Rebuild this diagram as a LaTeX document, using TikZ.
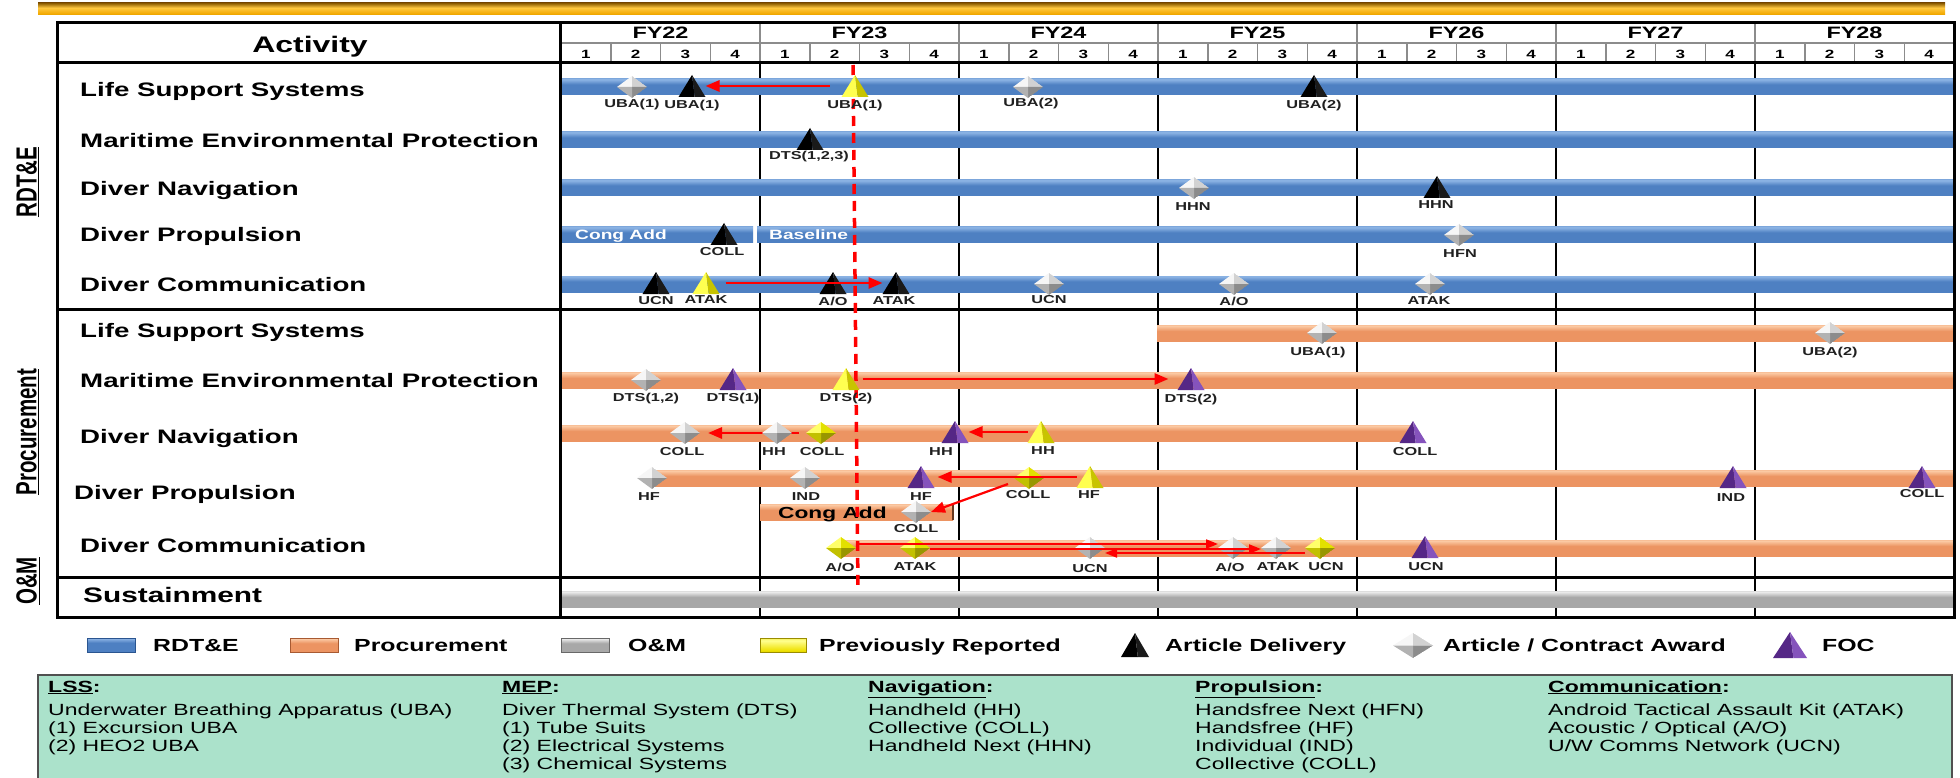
\documentclass[tikz,border=0pt]{standalone}
\usepackage{fontspec}
\setmainfont{Liberation Sans}
\newfontfamily\sfx[FakeStretch=1.42]{Liberation Sans}
\usetikzlibrary{arrows.meta,calc,shapes.geometric}
\definecolor{bbl}{HTML}{8FB6E6}
\definecolor{bbm}{HTML}{4E80C2}
\definecolor{bbd}{HTML}{2A5590}
\definecolor{obl}{HTML}{FBC9A3}
\definecolor{obm}{HTML}{EC9462}
\definecolor{obd}{HTML}{A85A32}
\definecolor{sbl}{HTML}{EAEAEA}
\definecolor{sbm}{HTML}{A8A8A8}
\definecolor{sbd}{HTML}{686868}
\definecolor{ybl}{HTML}{FFFF90}
\definecolor{ybm}{HTML}{EEE000}
\definecolor{ybd}{HTML}{9A8C00}
\definecolor{gdd}{HTML}{8A5A00}
\definecolor{gdm}{HTML}{F2A900}
\definecolor{gdl}{HTML}{FFC840}
\definecolor{tblk}{HTML}{1A1A1A}
\definecolor{tyl1}{HTML}{FFFF50}
\definecolor{tyl2}{HTML}{C8C400}
\definecolor{tpu1}{HTML}{552786}
\definecolor{tpu2}{HTML}{8553BC}
\definecolor{dg1}{HTML}{F6F6F6}
\definecolor{dg2}{HTML}{D2D2D2}
\definecolor{dg3}{HTML}{8C8C8C}
\definecolor{dg4}{HTML}{B2B2B2}
\definecolor{dy1}{HTML}{FFFF6A}
\definecolor{dy2}{HTML}{E2E000}
\definecolor{dy3}{HTML}{989600}
\definecolor{dy4}{HTML}{C2C000}
\definecolor{labc}{HTML}{202020}
\definecolor{hdrg}{HTML}{8C8C8C}
\definecolor{boxg}{HTML}{ABE2CB}
\definecolor{boxb}{HTML}{505050}
\pgfdeclareverticalshading{bluebar}{100bp}{color(0bp)=(bbd); color(22bp)=(bbm); color(58bp)=(bbm); color(74bp)=(bbl); color(88bp)=(bbm); color(100bp)=(bbd)}
\pgfdeclareverticalshading{orgbar}{100bp}{color(0bp)=(obd); color(22bp)=(obm); color(56bp)=(obm); color(72bp)=(obl); color(88bp)=(obm); color(100bp)=(obd)}
\pgfdeclareverticalshading{silbar}{100bp}{color(0bp)=(sbd); color(22bp)=(sbm); color(56bp)=(sbm); color(72bp)=(sbl); color(88bp)=(sbm); color(100bp)=(sbd)}
\pgfdeclareverticalshading{ylwbar}{100bp}{color(0bp)=(ybd); color(30bp)=(ybm); color(66bp)=(ybl); color(86bp)=(ybm); color(100bp)=(ybd)}
\pgfdeclareverticalshading{goldbar}{100bp}{color(0bp)=(gdd); color(30bp)=(gdm); color(55bp)=(gdl); color(75bp)=(gdd); color(90bp)=(gdm); color(100bp)=(gdd)}
\newcommand\fhdr{\sfx\bfseries\fontsize{22.5}{26}\selectfont}
\newcommand\frow{\sfx\bfseries\fontsize{19.5}{22}\selectfont}
\newcommand\fsus{\sfx\bfseries\fontsize{21}{24}\selectfont}
\newcommand\ffy{\sfx\bfseries\fontsize{16.5}{19}\selectfont}
\newcommand\fq{\sfx\bfseries\fontsize{12}{14}\selectfont}
\newcommand\flab{\sfx\bfseries\fontsize{11.5}{13}\selectfont}
\newcommand\fleg{\sfx\bfseries\fontsize{17.5}{20}\selectfont}
\newcommand\fbx{\sfx\fontsize{16.2}{18}\selectfont}
\newcommand\fcong{\sfx\bfseries\fontsize{13.5}{16}\selectfont}
\newcommand\fcongb{\sfx\bfseries\fontsize{16}{18}\selectfont}
\newcommand\fside{\bfseries\fontsize{20.5}{24}\selectfont}
\newcommand\mybar[4]{\shade[shading=#4] (#1,{#3-8}) rectangle (#2,{#3+8});}
\tikzset{
  mk/.style={inner sep=0pt, outer sep=0pt, draw=none},
  mtri/.style n args={2}{mk, rectangle, minimum width=27pt, minimum height=22pt,
    path picture={
      \fill[#1] (path picture bounding box.south west) -- (path picture bounding box.north) -- ($(path picture bounding box.south west)!0.6!(path picture bounding box.south east)$) -- cycle;
      \fill[#2] ($(path picture bounding box.south west)!0.6!(path picture bounding box.south east)$) -- (path picture bounding box.north) -- (path picture bounding box.south east) -- cycle;
    }},
  blk/.style={mtri={black}{tblk}},
  ytri/.style={mtri={tyl1}{tyl2}},
  ptri/.style={mtri={tpu1}{tpu2}},
  mdia/.style n args={4}{mk, diamond, minimum width=30pt, minimum height=22pt,
    path picture={
      \fill[#1] (path picture bounding box.west) -- (path picture bounding box.north) -- (path picture bounding box.center) -- cycle;
      \fill[#2] (path picture bounding box.north) -- (path picture bounding box.east) -- (path picture bounding box.center) -- cycle;
      \fill[#3] (path picture bounding box.east) -- (path picture bounding box.south) -- (path picture bounding box.center) -- cycle;
      \fill[#4] (path picture bounding box.south) -- (path picture bounding box.west) -- (path picture bounding box.center) -- cycle;
    }},
  gdia/.style={mdia={dg1}{dg2}{dg3}{dg4}},
  ydia/.style={mdia={dy1}{dy2}{dy3}{dy4}},
  mlab/.style={inner sep=0pt, font=\flab, text=labc},
  rowl/.style={anchor=base west, inner sep=0pt, font=\frow},
  legt/.style={anchor=base west, inner sep=0pt, font=\fleg},
  bxh/.style={anchor=base west, inner sep=0pt, font=\fbx\bfseries},
  bxt/.style={anchor=base west, inner sep=0pt, font=\fbx},
  rarr/.style={draw=red, line width=2.8pt, -{Triangle[length=14pt,width=11pt]}},
  rarrt/.style={draw=red, line width=2pt, -{Triangle[length=12pt,width=9pt]}},
  dashln/.style={draw=red, line width=3.5pt, dash pattern=on 10pt off 7pt},
  framel/.style={draw=black, line width=3pt},
  bodyl/.style={draw=black, line width=2.5pt},
  hdrl/.style={draw=hdrg, line width=1.5pt},
}
\begin{document}
\begin{tikzpicture}[x=1pt,y=-1pt]
\useasboundingbox (0,0) rectangle (1960,778);
\fill[white] (0,0) rectangle (1960,778);
% gold top bar
\shade[shading=goldbar] (38,3) rectangle (1945,15);
% body year lines
\foreach \k in {1,...,6} \draw[bodyl] ({561+199*\k},63) -- ({561+199*\k},617);
% header lines
\draw[hdrl] (560,43) -- (1954,43);
\foreach \k in {1,...,6} \draw[hdrl] ({561+199*\k},23) -- ({561+199*\k},63);
\foreach \j in {1,...,27} \draw[hdrl] ({561+49.75*\j},43) -- ({561+49.75*\j},63);
% bars RDT&E
\mybar{561}{1954}{87}{bluebar}
\mybar{561}{1954}{140}{bluebar}
\mybar{561}{1954}{188}{bluebar}
\mybar{561}{753}{235}{bluebar}
\mybar{757}{1954}{235}{bluebar}
\mybar{561}{1954}{284}{bluebar}
% bars procurement
\mybar{1157}{1954}{333}{orgbar}
\mybar{561}{1954}{380}{orgbar}
\mybar{561}{1413}{433}{orgbar}
\mybar{652}{1954}{478}{orgbar}
\mybar{760}{953}{512}{orgbar}
\draw[obd!60!black, line width=1.5pt] (953,504) -- (953,520);
\mybar{841}{1954}{548}{orgbar}
% sustainment
\mybar{561}{1954}{599}{silbar}
% frame
\draw[framel] (57,23) rectangle (1954,617);
\draw[framel] (57,63) -- (1954,63);
\draw[framel] (560,23) -- (560,617);
\draw[framel] (57,309) -- (1954,309);
\draw[framel] (57,577) -- (1954,577);
% header text
\node[anchor=base, inner sep=0pt, font=\fhdr] (act) at (310,53) {Activity};
\foreach \k/\lab in {0/FY22,1/FY23,2/FY24,3/FY25,4/FY26,5/FY27,6/FY28}
  \node[anchor=base, inner sep=0pt, font=\ffy] (fy\k) at ({561+199*\k+99.5},39) {\lab};
\foreach \k in {0,...,6} \foreach \j in {1,...,4}
  \node[anchor=base, inner sep=0pt, font=\fq] (q\k\j) at ({561+199*\k+49.75*(\j-0.5)},58.5) {\j};
% side labels
\node[inner sep=0pt] (sd1) at (28,182) {\scalebox{1.42}[1]{\rotatebox{90}{\fside\underline{RDT\&E}}}};
\node[inner sep=0pt] (sd2) at (28,432) {\scalebox{1.42}[1]{\rotatebox{90}{\fside\underline{Procurement}}}};
\node[inner sep=0pt] (sd3) at (28,581) {\scalebox{1.42}[1]{\rotatebox{90}{\fside\underline{O\&M}}}};
% row labels
\node[rowl] (a1) at (80,97) {Life Support Systems};
\node[rowl] (a2) at (80,148) {Maritime Environmental Protection};
\node[rowl] (a3) at (80,196) {Diver Navigation};
\node[rowl] (a4) at (80,242) {Diver Propulsion};
\node[rowl] (a5) at (80,291) {Diver Communication};
\node[rowl] (b1) at (80,337) {Life Support Systems};
\node[rowl] (b2) at (80,387) {Maritime Environmental Protection};
\node[rowl] (b3) at (80,443) {Diver Navigation};
\node[rowl] (b4) at (74,499) {Diver Propulsion};
\node[rowl] (b5) at (80,552) {Diver Communication};
\node[rowl, font=\fsus] (c1) at (83,602) {Sustainment};
% bar texts
\node[anchor=base west, inner sep=0pt, font=\fcong, text=white] (cg1) at (575,240) {Cong Add};
\node[anchor=base west, inner sep=0pt, font=\fcong, text=white] (bs1) at (769,240) {Baseline};
\node[anchor=base west, inner sep=0pt, font=\fcongb, text=black] (cg2) at (778,518) {Cong Add};
% dashed line
\coordinate (dtop) at (853,65);
\coordinate (dbot) at (858,591);
\draw[dashln] (dtop) -- (dbot);
% markers RDT&E LSS
\node[gdia] (r1a) at (632,87) {};
\node[blk] (r1b) at (692,86) {};
\node[ytri] (r1c) at (855,86) {};
\node[gdia] (r1d) at (1028,87) {};
\node[blk] (r1e) at (1314,86) {};
% RDT&E MEP
\node[blk] (r2a) at (810,139) {};
% RDT&E DN
\node[gdia] (r3a) at (1194,188) {};
\node[blk] (r3b) at (1437,187) {};
% RDT&E DP
\node[blk] (r4a) at (724,234) {};
\node[gdia] (r4b) at (1459,235) {};
% RDT&E DC
\node[blk] (r5a) at (656,283) {};
\node[ytri] (r5b) at (706,283) {};
\node[blk] (r5c) at (833,283) {};
\node[blk] (r5d) at (896,283) {};
\node[gdia] (r5e) at (1049,284) {};
\node[gdia] (r5f) at (1234,284) {};
\node[gdia] (r5g) at (1430,284) {};
% Proc LSS
\node[gdia] (p1a) at (1322,333) {};
\node[gdia] (p1b) at (1830,333) {};
% Proc MEP
\node[gdia] (p2a) at (646,380) {};
\node[ptri] (p2b) at (733,379) {};
\node[ytri] (p2c) at (846,379) {};
\node[ptri] (p2d) at (1191,379) {};
% Proc DN
\node[gdia] (p3a) at (685,433) {};
\node[ydia] (p3c) at (821,433) {};
\node[ptri] (p3d) at (955,432) {};
\node[ytri] (p3e) at (1041,432) {};
\node[ptri] (p3f) at (1413,432) {};
% Proc DP
\node[gdia] (p4a) at (652,478) {};
\node[gdia] (p4b) at (805,478) {};
\node[ptri] (p4c) at (921,477) {};
\node[ydia] (p4d) at (1029,478) {};
\node[ytri] (p4e) at (1090,477) {};
\node[ptri] (p4f) at (1733,477) {};
\node[ptri] (p4g) at (1922,477) {};
\node[gdia] (pc1) at (916,512) {};
% Proc DC
\node[ydia] (p5a) at (841,548) {};
\node[ydia] (p5b) at (915,548) {};
\node[gdia] (p5c) at (1090,548) {};
\node[gdia] (p5d) at (1233,548) {};
\node[gdia] (p5e) at (1276,548) {};
\node[ydia] (p5f) at (1320,548) {};
\node[ptri] (p5g) at (1425,547) {};
% arrows
\draw[rarr] ([xshift=-12pt]r1c.west) -- (r1b.east);
\draw[rarr] ([xshift=6pt]r5b.east) -- (r5d.west);
\draw[rarr] ([xshift=3pt]p2c.east) -- ([xshift=-9pt]p2d.west);
\draw[rarr] ([xshift=-7pt]p3c.west) -- ([xshift=8pt]p3a.east);
\draw[rarr] (p3e.west) -- (p3d.east);
\draw[rarr] (p4e.west) -- ([xshift=3pt]p4c.east);
\draw[rarr, line width=2.2pt] ([xshift=-21pt,yshift=-6pt]p4d.center) -- (pc1.east);
\draw[rarrt] ([yshift=4pt]p5a.east) -- ([yshift=4pt]p5d.west);
\draw[rarrt] ([yshift=-1pt]p5b.east) -- ([yshift=-1pt]p5e.west);
\draw[rarrt] ([yshift=-5pt]p5f.west) -- ([yshift=-5pt]p5c.east);
% marker drawn over the arrow
\node[gdia] (p3b) at (777,433) {};
% marker labels
\node[mlab] (r1al) at (632,105) {UBA(1)};
\node[mlab] (r1bl) at (692,106) {UBA(1)};
\node[mlab] (r1cl) at (855,106) {UBA(1)};
\node[mlab] (r1dl) at (1031,104) {UBA(2)};
\node[mlab] (r1el) at (1314,106) {UBA(2)};
\node[mlab] (r2al) at (809,157) {DTS(1,2,3)};
\node[mlab] (r3al) at (1193,207) {HHN};
\node[mlab] (r3bl) at (1436,205) {HHN};
\node[mlab] (r4al) at (722,252) {COLL};
\node[mlab] (r4bl) at (1460,254) {HFN};
\node[mlab] (r5al) at (656,301) {UCN};
\node[mlab] (r5bl) at (706,300) {ATAK};
\node[mlab] (r5cl) at (833,301) {A/O};
\node[mlab] (r5dl) at (894,301) {ATAK};
\node[mlab] (r5el) at (1049,300) {UCN};
\node[mlab] (r5fl) at (1234,301) {A/O};
\node[mlab] (r5gl) at (1429,301) {ATAK};
\node[mlab] (p1al) at (1318,353) {UBA(1)};
\node[mlab] (p1bl) at (1830,353) {UBA(2)};
\node[mlab] (p2al) at (646,399) {DTS(1,2)};
\node[mlab] (p2bl) at (733,399) {DTS(1)};
\node[mlab] (p2cl) at (846,399) {DTS(2)};
\node[mlab] (p2dl) at (1191,400) {DTS(2)};
\node[mlab] (p3al) at (682,452) {COLL};
\node[mlab] (p3bl) at (774,452) {HH};
\node[mlab] (p3cl) at (822,452) {COLL};
\node[mlab] (p3dl) at (941,452) {HH};
\node[mlab] (p3el) at (1043,451) {HH};
\node[mlab] (p3fl) at (1415,452) {COLL};
\node[mlab] (p4al) at (649,497) {HF};
\node[mlab] (p4bl) at (806,497) {IND};
\node[mlab] (p4cl) at (921,497) {HF};
\node[mlab] (p4dl) at (1028,495) {COLL};
\node[mlab] (p4el) at (1089,495) {HF};
\node[mlab] (p4fl) at (1731,498) {IND};
\node[mlab] (p4gl) at (1922,494) {COLL};
\node[mlab] (pc1l) at (916,529) {COLL};
\node[mlab] (p5al) at (840,567) {A/O};
\node[mlab] (p5bl) at (915,567) {ATAK};
\node[mlab] (p5cl) at (1090,569) {UCN};
\node[mlab] (p5dl) at (1230,567) {A/O};
\node[mlab] (p5el) at (1278,567) {ATAK};
\node[mlab] (p5fl) at (1326,567) {UCN};
\node[mlab] (p5gl) at (1426,567) {UCN};
% legend
\shade[shading=bluebar, draw=bbd, line width=0.6pt] (87,638) rectangle (135,652);
\node[legt] (lg1) at (153,651) {RDT\&E};
\shade[shading=orgbar, draw=obd, line width=0.6pt] (290,638) rectangle (338,652);
\node[legt] (lg2) at (354,651) {Procurement};
\shade[shading=silbar, draw=sbd, line width=0.6pt] (561,638) rectangle (609,652);
\node[legt] (lg3) at (628,651) {O\&M};
\shade[shading=ylwbar, draw=ybd, line width=0.6pt] (760,638) rectangle (806,652);
\node[legt] (lg4) at (819,651) {Previously Reported};
\node[blk, minimum width=28pt, minimum height=24pt] (lgm1) at (1135,645) {};
\node[legt] (lg5) at (1165,651) {Article Delivery};
\node[gdia, minimum width=40pt, minimum height=25pt] (lgm2) at (1413,645.5) {};
\node[legt] (lg6) at (1443,651) {Article / Contract Award};
\node[ptri, minimum width=34pt, minimum height=26pt] (lgm3) at (1790,645) {};
\node[legt] (lg7) at (1822,651) {FOC};
% glossary box
\draw[fill=boxg, draw=boxb, line width=1.5pt] (38,675) rectangle (1952,800);
\node[bxh] (g1) at (48,692) {\underline{LSS}:};
\node[bxt] (g11) at (48,715) {Underwater Breathing Apparatus (UBA)};
\node[bxt] (g12) at (48,733) {(1) Excursion UBA};
\node[bxt] (g13) at (48,751) {(2) HEO2 UBA};
\node[bxh] (g2) at (502,692) {\underline{MEP}:};
\node[bxt] (g21) at (502,715) {Diver Thermal System (DTS)};
\node[bxt] (g22) at (502,733) {(1) Tube Suits};
\node[bxt] (g23) at (502,751) {(2) Electrical Systems};
\node[bxt] (g24) at (502,769) {(3) Chemical Systems};
\node[bxh] (g3) at (868,692) {\underline{Navigation}:};
\node[bxt] (g31) at (868,715) {Handheld (HH)};
\node[bxt] (g32) at (868,733) {Collective (COLL)};
\node[bxt] (g33) at (868,751) {Handheld Next (HHN)};
\node[bxh] (g4) at (1195,692) {\underline{Propulsion}:};
\node[bxt] (g41) at (1195,715) {Handsfree Next (HFN)};
\node[bxt] (g42) at (1195,733) {Handsfree (HF)};
\node[bxt] (g43) at (1195,751) {Individual (IND)};
\node[bxt] (g44) at (1195,769) {Collective (COLL)};
\node[bxh] (g5) at (1548,692) {\underline{Communication}:};
\node[bxt] (g51) at (1548,715) {Android Tactical Assault Kit (ATAK)};
\node[bxt] (g52) at (1548,733) {Acoustic / Optical (A/O)};
\node[bxt] (g53) at (1548,751) {U/W Comms Network (UCN)};
\end{tikzpicture}
\end{document}
